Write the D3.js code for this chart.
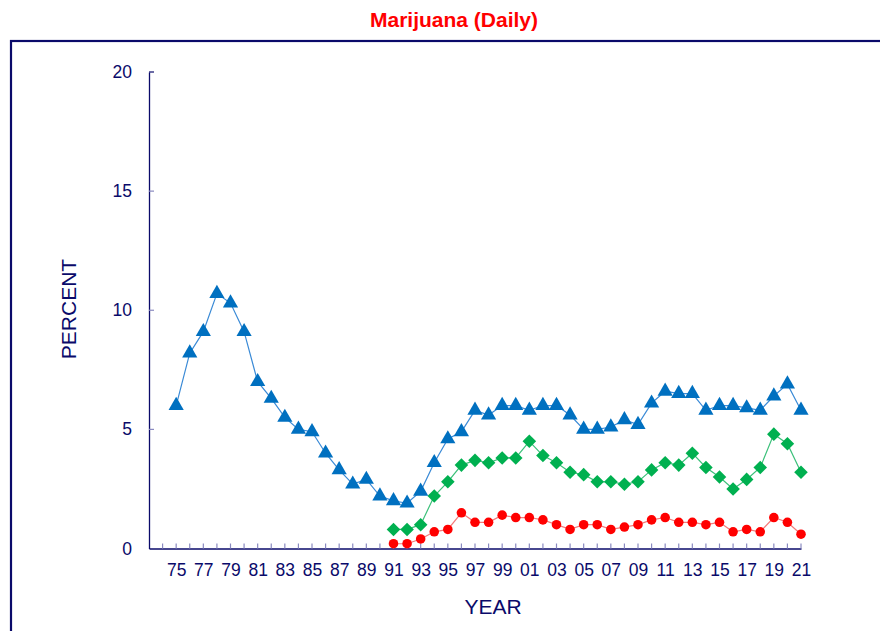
<!DOCTYPE html>
<meta charset="utf-8">
<style>
  body { margin: 0; background: #fff; }
  text { font-family: "Liberation Sans", Arial, sans-serif; }
</style>

<!-- Load d3.js -->
<script src="https://d3js.org/d3.v7.min.js"></script>

<div id="my_dataviz"></div>

<script>

    // data
    const years12 = [1975, 1976, 1977, 1978, 1979, 1980, 1981, 1982, 1983, 1984, 1985, 1986, 1987, 1988,
                     1989, 1990, 1991, 1992, 1993, 1994, 1995, 1996, 1997, 1998, 1999, 2000, 2001, 2002,
                     2003, 2004, 2005, 2006, 2007, 2008, 2009, 2010, 2011, 2012, 2013, 2014, 2015, 2016,
                     2017, 2018, 2019, 2020, 2021];
    const grade12 = [6.0, 8.2, 9.1, 10.7, 10.3, 9.1, 7.0, 6.3, 5.5, 5.0, 4.9, 4.0, 3.3, 2.7,
                     2.9, 2.2, 2.0, 1.9, 2.4, 3.6, 4.6, 4.9, 5.8, 5.6, 6.0, 6.0, 5.8, 6.0,
                     6.0, 5.6, 5.0, 5.0, 5.1, 5.4, 5.2, 6.1, 6.6, 6.5, 6.5, 5.8, 6.0, 6.0,
                     5.9, 5.8, 6.4, 6.9, 5.8];

    const years8_10 = [1991, 1992, 1993, 1994, 1995, 1996, 1997, 1998, 1999, 2000, 2001, 2002, 2003,
                       2004, 2005, 2006, 2007, 2008, 2009, 2010, 2011, 2012, 2013, 2014, 2015, 2016,
                       2017, 2018, 2019, 2020, 2021];
    const grade10 = [0.8, 0.8, 1.0, 2.2, 2.8, 3.5, 3.7, 3.6, 3.8, 3.8, 4.5, 3.9, 3.6,
                     3.2, 3.1, 2.8, 2.8, 2.7, 2.8, 3.3, 3.6, 3.5, 4.0, 3.4, 3.0, 2.5,
                     2.9, 3.4, 4.8, 4.4, 3.2];
    const grade8 = [0.2, 0.2, 0.4, 0.7, 0.8, 1.5, 1.1, 1.1, 1.4, 1.3, 1.3, 1.2, 1.0,
                    0.8, 1.0, 1.0, 0.8, 0.9, 1.0, 1.2, 1.3, 1.1, 1.1, 1.0, 1.1, 0.7,
                    0.8, 0.7, 1.3, 1.1, 0.6];

    const yTicks = [0, 5, 10, 15, 20];
    const xLabelYears = [1975, 1977, 1979, 1981, 1983, 1985, 1987, 1989, 1991, 1993, 1995, 1997,
                         1999, 2001, 2003, 2005, 2007, 2009, 2011, 2013, 2015, 2017, 2019, 2021];

    const navy = "#0a0a6a";
    const tickColor = "#8a8ac0";

    const W = 880, H = 631;
    const svg = d3.select("#my_dataviz")
      .append("svg")
        .attr("width", W)
        .attr("height", H);

    // title
    svg.append("text")
      .attr("x", 454)
      .attr("y", 27)
      .attr("text-anchor", "middle")
      .style("font-size", "21px")
      .style("font-weight", "bold")
      .attr("fill", "#ff0000")
      .text("Marijuana (Daily)");

    // outer frame (runs off the right/bottom of the page)
    svg.append("rect")
      .attr("x", 11).attr("y", 41)
      .attr("width", 900).attr("height", 620)
      .attr("fill", "none")
      .attr("stroke", navy)
      .attr("stroke-width", 2.2);

    // scales
    const x = d3.scaleLinear().domain([1973, 2021]).range([149, 801]);
    const y = d3.scaleLinear().domain([0, 20]).range([548.5, 72]);

    // y axis
    const yAxis = svg.append("g")
      .attr("transform", `translate(${x(1973)},0)`)
      .call(d3.axisLeft(y).tickValues(yTicks).tickSize(0).tickPadding(17));
    yAxis.select(".domain").attr("stroke", navy).attr("stroke-width", 1.3);
    yAxis.selectAll("text")
      .style("font-size", "17.5px")
      .attr("fill", navy);
    // inner ticks
    svg.selectAll(".ytick")
      .data(yTicks.filter(d => d > 0))
      .join("line")
        .attr("x1", x(1973)).attr("x2", x(1973) + 5)
        .attr("y1", d => y(d)).attr("y2", d => y(d))
        .attr("stroke", d => d === 20 ? navy : tickColor)
        .attr("stroke-width", 1.2);

    // x axis
    const xAxis = svg.append("g")
      .attr("transform", `translate(0,${y(0)})`)
      .call(d3.axisBottom(x).tickValues(xLabelYears).tickSize(0).tickPadding(15)
        .tickFormat(d => String(d % 100).padStart(2, "0")));
    xAxis.select(".domain").attr("stroke", navy).attr("stroke-width", 1.3);
    xAxis.selectAll("text")
      .style("font-size", "17.5px")
      .attr("fill", navy);
    svg.selectAll(".xtick")
      .data(x.ticks(48).filter(d => d > 1973))
      .join("line")
        .attr("x1", d => x(d)).attr("x2", d => x(d))
        .attr("y1", y(0)).attr("y2", y(0) - 5)
        .attr("stroke", tickColor)
        .attr("stroke-width", 1.2);

    // axis titles
    svg.append("text")
      .attr("transform", `translate(76,309)rotate(-90)`)
      .attr("text-anchor", "middle")
      .style("font-size", "21px")
      .attr("fill", navy)
      .text("PERCENT");
    svg.append("text")
      .attr("x", 493).attr("y", 614)
      .attr("text-anchor", "middle")
      .style("font-size", "21px")
      .attr("fill", navy)
      .text("YEAR");

    // series
    const series = [
      {years: years8_10, vals: grade8,  line: "#f47a7a", fill: "#ff0000", sym: d3.symbolCircle,   size: 72, rot: 0},
      {years: years8_10, vals: grade10, line: "#3cc07a", fill: "#00b050", sym: d3.symbolSquare,   size: 92, rot: 45},
      {years: years12,   vals: grade12, line: "#3a8ad6", fill: "#0070c0", sym: d3.symbolTriangle, size: 100, rot: 0}
    ];

    const line = d3.line().x(d => x(d[0])).y(d => y(d[1]));

    series.forEach(s => {
      const pts = s.years.map((yr, i) => [yr, s.vals[i]]);
      svg.append("path")
        .datum(pts)
        .attr("fill", "none")
        .attr("stroke", s.line)
        .attr("stroke-width", 1.2)
        .attr("d", line);
      svg.append("g")
        .selectAll("path")
        .data(pts)
        .join("path")
          .attr("transform", d => `translate(${x(d[0])},${y(d[1])})rotate(${s.rot})`)
          .attr("d", d3.symbol().type(s.sym).size(s.size))
          .attr("fill", s.fill);
    });

</script>
